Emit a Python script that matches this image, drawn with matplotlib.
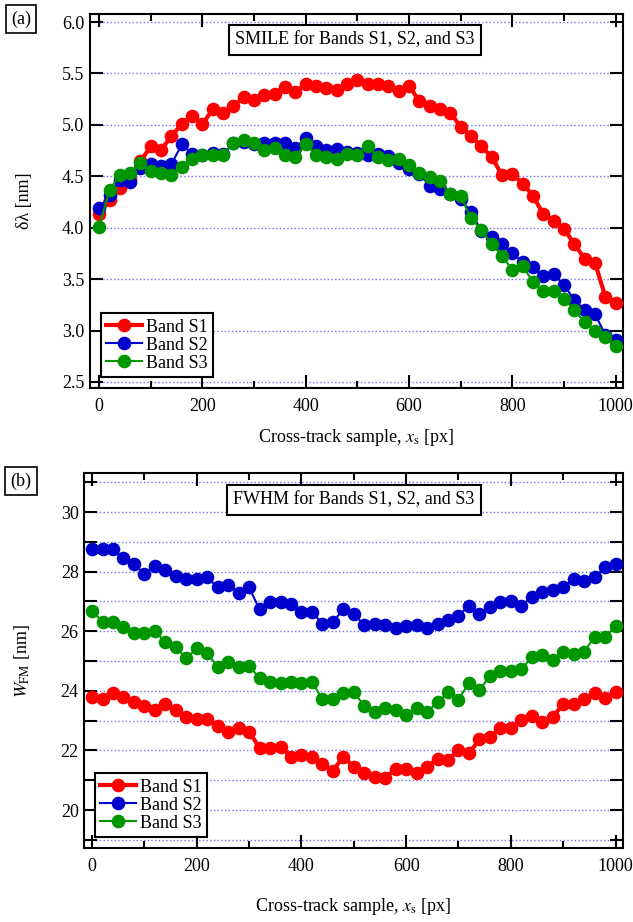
import matplotlib
matplotlib.use('Agg')
import matplotlib.pyplot as plt
from matplotlib.ticker import MultipleLocator
import numpy as np

plt.rcParams['font.family'] = ['Liberation Serif', 'DejaVu Serif']
plt.rcParams['mathtext.fontset'] = 'stix'
plt.rcParams['font.size'] = 13

# cross-track sample positions (every 20 px)
xs = list(range(0, 1001, 20))

# SMILE, delta lambda [nm]
smile_s1 = [4.13, 4.27, 4.39, 4.47, 4.65, 4.79, 4.76, 4.89, 5.01, 5.09,
            5.01, 5.15, 5.12, 5.18, 5.27, 5.24, 5.29, 5.30, 5.37, 5.32,
            5.40, 5.38, 5.36, 5.34, 5.40, 5.44, 5.40, 5.40, 5.38, 5.33,
            5.38, 5.23, 5.18, 5.15, 5.12, 4.98, 4.89, 4.79, 4.69, 4.51,
            4.52, 4.43, 4.31, 4.13, 4.07, 3.99, 3.84, 3.70, 3.66, 3.33, 3.27]
smile_s2 = [4.19, 4.32, 4.46, 4.44, 4.58, 4.62, 4.60, 4.62, 4.81, 4.72,
            4.71, 4.73, 4.72, 4.82, 4.83, 4.81, 4.82, 4.82, 4.82, 4.78,
            4.87, 4.79, 4.76, 4.77, 4.74, 4.73, 4.71, 4.72, 4.70, 4.63,
            4.57, 4.52, 4.41, 4.38, 4.33, 4.28, 4.15, 3.97, 3.91, 3.84,
            3.75, 3.67, 3.62, 3.53, 3.55, 3.44, 3.30, 3.20, 3.16, 2.96, 2.91]
smile_s3 = [4.01, 4.37, 4.51, 4.53, 4.63, 4.55, 4.53, 4.51, 4.59, 4.67,
            4.71, 4.71, 4.71, 4.82, 4.85, 4.82, 4.76, 4.78, 4.71, 4.69,
            4.81, 4.71, 4.69, 4.67, 4.72, 4.71, 4.79, 4.69, 4.66, 4.67,
            4.61, 4.53, 4.49, 4.45, 4.33, 4.31, 4.09, 3.98, 3.84, 3.73,
            3.59, 3.63, 3.47, 3.38, 3.38, 3.31, 3.20, 3.08, 3.00, 2.94, 2.85]

# FWHM [nm]
fwhm_s1 = [23.80, 23.72, 23.92, 23.78, 23.61, 23.49, 23.36, 23.56, 23.36, 23.13,
           23.05, 23.05, 22.83, 22.63, 22.77, 22.63, 22.09, 22.09, 22.12, 21.79,
           21.85, 21.79, 21.54, 21.32, 21.79, 21.45, 21.25, 21.12, 21.08, 21.38,
           21.38, 21.25, 21.45, 21.73, 21.68, 22.01, 21.90, 22.37, 22.44, 22.77,
           22.77, 23.02, 23.15, 22.96, 23.13, 23.55, 23.55, 23.72, 23.92, 23.77, 23.97]
fwhm_s2 = [28.76, 28.76, 28.76, 28.45, 28.26, 27.92, 28.20, 28.05, 27.85, 27.74,
           27.74, 27.81, 27.47, 27.55, 27.30, 27.47, 26.73, 26.97, 26.97, 26.90,
           26.65, 26.65, 26.26, 26.32, 26.73, 26.58, 26.20, 26.26, 26.20, 26.10,
           26.17, 26.20, 26.10, 26.26, 26.38, 26.52, 26.86, 26.58, 26.82, 26.99,
           27.02, 26.85, 27.16, 27.33, 27.38, 27.49, 27.75, 27.68, 27.81, 28.16, 28.26]
fwhm_s3 = [26.68, 26.32, 26.32, 26.15, 25.93, 25.93, 26.02, 25.63, 25.48, 25.09,
           25.43, 25.27, 24.80, 24.96, 24.81, 24.85, 24.42, 24.31, 24.25, 24.31,
           24.25, 24.31, 23.72, 23.72, 23.92, 23.97, 23.49, 23.30, 23.43, 23.36,
           23.19, 23.43, 23.30, 23.61, 23.95, 23.71, 24.27, 24.03, 24.50, 24.67,
           24.67, 24.72, 25.14, 25.20, 25.03, 25.30, 25.23, 25.31, 25.82, 25.80, 26.17]

labels = ['Band S1', 'Band S2', 'Band S3']
colors = ['#ff0000', '#0000cc', '#009600']
widths = [3.0, 1.5, 1.5]
grid_color = '#6e6eff'

fig = plt.figure(figsize=(6.33, 9.22), dpi=100)
ax_a = fig.add_axes([0.142, 0.579, 0.842, 0.406])
ax_b = fig.add_axes([0.133, 0.080, 0.851, 0.407])


def style_axes(ax):
    for sp in ax.spines.values():
        sp.set_linewidth(1.5)
    ax.tick_params(which='both', direction='in', top=True, right=True, width=1.5,
                   labelsize=13)
    ax.tick_params(which='major', length=9.5)
    ax.tick_params(axis='x', which='both', pad=7)
    ax.tick_params(axis='y', which='both', pad=4)


def draw_panel(ax, series, grid_vals):
    ax.hlines(grid_vals, 0, 1000, colors=grid_color, linestyles=':', linewidth=1.0, zorder=1)
    for vals, lab, col, lw in zip(series, labels, colors, widths):
        ax.plot(xs, vals, '-o', color=col, lw=lw, ms=8.8, label=lab, zorder=3)
    leg = ax.legend(loc='lower left', bbox_to_anchor=(0.02, 0.03), borderaxespad=0,
                    fancybox=False, framealpha=1, edgecolor='black',
                    handlelength=2.0, handletextpad=0.2, labelspacing=0.05,
                    borderpad=0.3, fontsize=13)
    leg.get_frame().set_linewidth(1.5)
    ax.set_xlabel(r'Cross-track sample, $x_\mathrm{s}$ [px]', fontsize=13)
    ax.xaxis.set_major_locator(MultipleLocator(200))
    ax.xaxis.set_minor_locator(MultipleLocator(100))
    ax.tick_params(axis='x', which='minor', length=5)


# (a) SMILE
style_axes(ax_a)
draw_panel(ax_a, [smile_s1, smile_s2, smile_s3], np.arange(2.5, 6.01, 0.5))
ax_a.set_xlim(-18, 1014)
ax_a.set_ylim(2.44, 6.08)
ax_a.yaxis.set_major_locator(MultipleLocator(0.5))
ax_a.set_ylabel('δλ [nm]', fontsize=13)
ax_a.yaxis.set_label_coords(-0.106, 0.5)
ax_a.xaxis.set_label_coords(0.5, -0.104)
ax_a.text(0.497, 0.93, 'SMILE for Bands S1, S2, and S3', transform=ax_a.transAxes,
          ha='center', va='center', fontsize=13,
          bbox=dict(boxstyle='square,pad=0.35', fc='white', ec='black', lw=1.5))

# (b) FWHM
style_axes(ax_b)
draw_panel(ax_b, [fwhm_s1, fwhm_s2, fwhm_s3], np.arange(19, 31.1, 1))
ax_b.set_xlim(-15, 1014)
ax_b.set_ylim(18.72, 31.31)
ax_b.yaxis.set_major_locator(MultipleLocator(2))
ax_b.yaxis.set_minor_locator(MultipleLocator(1))
ax_b.tick_params(axis='y', which='minor', length=9.5)
ax_b.set_ylabel(r'$W_\mathrm{FM}$ [nm]', fontsize=13)
ax_b.yaxis.set_label_coords(-0.096, 0.5)
ax_b.xaxis.set_label_coords(0.5, -0.128)
ax_b.text(0.50, 0.928, 'FWHM for Bands S1, S2, and S3', transform=ax_b.transAxes,
          ha='center', va='center', fontsize=13,
          bbox=dict(boxstyle='square,pad=0.35', fc='white', ec='black', lw=1.5))

# panel tags
for tag, yy in [('(a)', 19), ('(b)', 481)]:
    fig.text(21 / 633, 1 - yy / 922, tag, ha='center', va='center', fontsize=13,
             bbox=dict(boxstyle='square,pad=0.28', fc='white', ec='black', lw=1.2))

fig.savefig('out.png', dpi=100)
